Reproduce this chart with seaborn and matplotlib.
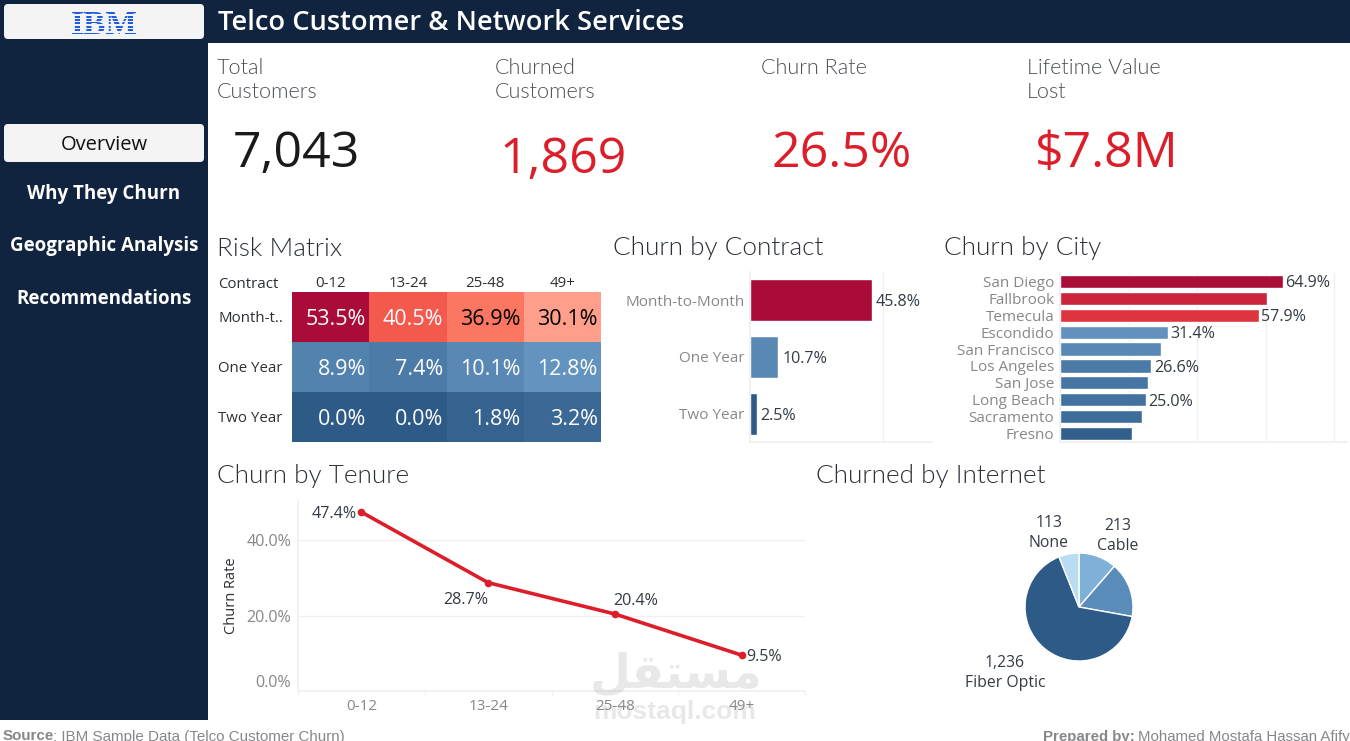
import matplotlib
matplotlib.use("Agg")
import matplotlib.pyplot as plt
from matplotlib.colors import LinearSegmentedColormap
from matplotlib.patches import FancyBboxPatch, Rectangle
import pandas as pd
import seaborn as sns

# data
kpi_titles = ["Total\nCustomers", "Churned\nCustomers", "Churn Rate", "Lifetime Value\nLost"]
kpi_values = ["7,043", "1,869", "26.5%", "$7.8M"]
nav_items = ["Overview", "Why They Churn", "Geographic Analysis", "Recommendations"]

tenure = ["0-12", "13-24", "25-48", "49+"]
contracts_short = ["Month-t..", "One Year", "Two Year"]
risk_month = [53.5, 40.5, 36.9, 30.1]
risk_one = [8.9, 7.4, 10.1, 12.8]
risk_two = [0.0, 0.0, 1.8, 3.2]

contracts = ["Month-to-Month", "One Year", "Two Year"]
contract_rate = [45.8, 10.7, 2.5]

cities = ["San Diego", "Fallbrook", "Temecula", "Escondido", "San Francisco",
          "Los Angeles", "San Jose", "Long Beach", "Sacramento", "Fresno"]
city_rate = [64.9, 60.5, 57.9, 31.4, 29.6, 26.6, 25.8, 25.0, 23.9, 21.0]
city_labelled = ["San Diego", "Temecula", "Escondido", "Los Angeles", "Long Beach"]

tenure_rate = [47.4, 28.7, 20.4, 9.5]

internet = ["Cable", "DSL", "Fiber Optic", "None"]
internet_count = [213, 307, 1236, 113]

W, H = 1350, 741
NAVY = "#10233f"
GRID = "#f0f0f0"
DARK = "#333b45"
GRAY = "#85878a"
RED = "#dc1e2a"
LIGHT_FONT = ["Lato", "DejaVu Sans"]
BODY_FONT = ["Open Sans", "DejaVu Sans"]
MID = "center_baseline"

sns.set_theme(style="white")
plt.rcParams["font.family"] = BODY_FONT

# tableau style red-blue, anchored on the values seen in the matrix
anchors = [(0, "#2e5a87"), (12.8, "#6394bf"), (30.1, "#ffa08c"),
           (36.9, "#fb7762"), (40.5, "#f4594e"), (53.5, "#a90c38")]
cmap = LinearSegmentedColormap.from_list("risk", [(v / 53.5, c) for v, c in anchors])
blue_ramp = LinearSegmentedColormap.from_list("b", ["#2e5a87", "#6394bf"])
red_ramp = LinearSegmentedColormap.from_list("r", ["#e4393f", "#a90c38"])


def bar_color(v):
    # bars use a blue ramp below 35 and a red ramp above
    if v < 35:
        return blue_ramp(max(0, (v - 20) / 12))
    return red_ramp((v - 57) / 8)


def add_axes(x0, y0, x1, y1):
    return fig.add_axes([x0 / W, 1 - y1 / H, (x1 - x0) / W, (y1 - y0) / H])


fig = plt.figure(figsize=(W / 100, H / 100), dpi=100, facecolor="white")

# risk matrix
risk = pd.DataFrame([risk_month, risk_one, risk_two], index=contracts_short, columns=tenure)
risk_labels = risk.map(lambda v: f"{v:.1f}%")
ax = add_axes(292, 292, 601, 442)
sns.heatmap(risk, ax=ax, cmap=cmap, vmin=0, vmax=53.5, annot=risk_labels, fmt="", cbar=False,
            linewidths=0, annot_kws={"fontsize": 15.5, "color": "white"})
ax.set_xlabel("")
ax.set_ylabel("")
ax.xaxis.tick_top()
ax.tick_params(axis="both", length=0, labelsize=10.8, colors="#2b2f36")
ax.tick_params(axis="x", pad=0.5, rotation=0)
ax.tick_params(axis="y", pad=53, rotation=0)
for lab in ax.get_yticklabels():
    lab.set_ha("left")
    lab.set_va(MID)
flat = risk.values.flatten()
for txt, v in zip(ax.texts, flat):
    x, y = txt.get_position()
    txt.set_ha("right")
    txt.set_va(MID)
    txt.set_position((x + 0.46, y))
    txt.set_color("black" if 25 < v < 40 else "white")

# churn by contract
ax = add_axes(750, 272, 932, 442)
df = pd.DataFrame({"contract": contracts, "rate": contract_rate})
sns.barplot(df, x="rate", y="contract", hue="contract", ax=ax, legend=False, width=0.74, saturation=1,
            palette=dict(zip(contracts, ["#a90c38", "#5a88b5", "#2e5a87"])))
ax.set_xlim(0, 68.4)
ax.set_xticks([50])
ax.set_xlabel("")
ax.set_ylabel("")
ax.grid(axis="x", color=GRID, lw=1)
ax.tick_params(axis="y", length=0, pad=4, labelsize=11, labelcolor=GRAY)
ax.tick_params(axis="x", length=0, labelbottom=False)
for i, v in enumerate(contract_rate):
    ax.text(v + 1.5, i, f"{v}%", va=MID, fontsize=11.6, color=DARK)
sns.despine(ax=ax, top=True, right=True)
ax.spines["left"].set_color(GRID)
ax.spines["bottom"].set_color(GRID)

# churn by city
ax = add_axes(1060, 273, 1347, 442)
df = pd.DataFrame({"city": cities, "rate": city_rate})
sns.barplot(df, x="rate", y="city", hue="city", ax=ax, legend=False, width=0.78, saturation=1,
            palette={c: bar_color(v) for c, v in zip(cities, city_rate)})
ax.set_xlim(0, 83.7)
ax.set_xticks([20, 40, 60, 80])
ax.set_xlabel("")
ax.set_ylabel("")
ax.grid(axis="x", color=GRID, lw=1)
ax.tick_params(axis="y", length=0, pad=4, labelsize=11, labelcolor=GRAY)
ax.tick_params(axis="x", length=0, labelbottom=False)
for i, (c, v) in enumerate(zip(cities, city_rate)):
    if c in city_labelled:
        ax.text(v + 0.8, i, f"{v:.1f}%", va=MID, fontsize=11.6, color=DARK)
sns.despine(ax=ax, top=True, right=True)
ax.spines["left"].set_color(GRID)
ax.spines["bottom"].set_color(GRID)

# churn by tenure
ax = add_axes(298, 500, 805, 691)
df = pd.DataFrame({"tenure": tenure, "rate": tenure_rate})
sns.lineplot(df, x="tenure", y="rate", ax=ax, color=RED, lw=2.6, marker="o", markersize=5.5,
             markeredgewidth=0)
ax.set_xlim(-0.5, 3.5)
ax.set_ylim(0, 50.6)
ax.set_yticks([0, 20, 40])
ax.set_yticklabels(["0.0%", "20.0%", "40.0%"])
ax.get_yticklabels()[0].set_va("bottom")
ax.set_xticks([-0.5, 0.5, 1.5, 2.5, 3.5], minor=True)
ax.grid(axis="y", color=GRID, lw=1)
ax.tick_params(axis="y", length=0, pad=5, labelsize=11.6, labelcolor=GRAY)
ax.tick_params(axis="x", which="major", length=0, pad=5.5, labelsize=11, labelcolor=GRAY)
ax.tick_params(axis="x", which="minor", length=3, width=1, color=GRID, bottom=True)
ax.set_xlabel("")
ax.set_ylabel("Churn Rate", fontsize=10.5, color="#2b2f36")
ax.yaxis.set_label_coords(-0.117, 0.5)
sns.despine(ax=ax, top=True, right=True)
ax.spines["left"].set_color(GRID)
ax.spines["bottom"].set_color(GRID)
label_offsets = [(-3, 0, "right"), (0, -11, "right"), (-1, 11, "left"), (3, 0, "left")]
for i, v in enumerate(tenure_rate):
    dx, dy, ha = label_offsets[i]
    ax.annotate(f"{v}%", (i, v), xytext=(dx, dy), textcoords="offset points",
                ha=ha, va=MID, fontsize=11.6, color=DARK)

# churned by internet
ax = add_axes(1019, 547, 1139, 667)
ax.pie(internet_count, colors=["#7fb0d8", "#5a8cba", "#2e5a87", "#b8dcf1"],
       startangle=90, counterclock=False, radius=1)
ax.set_xlim(-60 / 54, 60 / 54)
ax.set_ylim(-60 / 54, 60 / 54)

# page furniture on a top layer in pixel coordinates
top = fig.add_axes([0, 0, 1, 1], zorder=10)
top.set_xlim(0, W)
top.set_ylim(H, 0)
top.axis("off")
top.patch.set_alpha(0)

top.add_patch(Rectangle((0, 0), 208, 720, color=NAVY, lw=0))
top.add_patch(Rectangle((0, 0), W, 43, color=NAVY, lw=0))
for y0, y1 in [(4, 39), (124, 162)]:
    top.add_patch(FancyBboxPatch((7, y0 + 3), 194, y1 - y0 - 6, boxstyle="round,pad=3,rounding_size=4",
                                 fc="#f4f4f4", ec="none"))

# logo: blue letters cut by pale stripes
top.text(104, 22, "IBM", family="Liberation Serif", weight="bold", fontsize=24, color="#1f5be0",
         ha="center", va=MID)
for k in range(1, 8):
    top.add_patch(Rectangle((66, 8 + k * 3.4 - 0.7), 76, 1.4, color="#f4f4f4", lw=0, zorder=5))

top.text(218, 20, "Telco Customer & Network Services", fontsize=19.6, color="white",
         weight="semibold", va=MID)

nav_y = [143, 192, 244, 296]
for i, (name, y) in enumerate(zip(nav_items, nav_y)):
    top.text(104, y, name, ha="center", va=MID, fontsize=14.5 if i == 0 else 13.5,
             color="#111111" if i == 0 else "white", weight="normal" if i == 0 else "bold",
             family=BODY_FONT)

kpi_x = [217, 495, 761, 1027]
kpi_val_x = [296, 563, 842, 1107]
kpi_val_y = [148, 154, 148, 148]
for i in range(4):
    top.text(kpi_x[i], 58, kpi_titles[i], fontsize=15.6, color="#4a4f57", va="top",
             family=LIGHT_FONT, weight=300, linespacing=1.28)
    top.text(kpi_val_x[i], kpi_val_y[i], kpi_values[i], fontsize=36, ha="center", va=MID,
             color="#1a1a1a" if i == 0 else RED)

for x, y, name in [(217, 246, "Risk Matrix"), (613, 246, "Churn by Contract"), (944, 246, "Churn by City"),
                   (217, 474, "Churn by Tenure"), (816, 474, "Churned by Internet")]:
    top.text(x, y, name, fontsize=18.8, color="#2b3038", va=MID, family=LIGHT_FONT, weight=300)

top.text(218, 283, "Contract", fontsize=10.8, color="#2b2f36", va=MID)

for name, count, x, y in [("None", 113, 1049, 533), ("Cable", 213, 1118, 536), ("Fiber Optic", 1236, 1005, 673)]:
    top.text(x, y, f"{count:,}\n{name}", fontsize=11.3, color=DARK, ha="center", va="center", linespacing=1.4)

# footer, cut by the bottom edge like the original
foot = ["Liberation Sans", "DejaVu Sans"]
top.text(3, 736.5, "Source", fontsize=10.9, color=GRAY, va="center", family=foot, weight="bold")
top.text(53, 736.5, ": IBM Sample Data (Telco Customer Churn)", fontsize=10.9, color=GRAY, va="center", family=foot)
top.text(1043, 736.5, "Prepared by:", fontsize=10.8, color=GRAY, va="center", family=foot, weight="bold")
top.text(1138, 736.5, "Mohamed Mostafa Hassan Afify", fontsize=10.8, color=GRAY, va="center", family=foot)

# watermark
top.text(676, 675, "\ufede\ufed8\ufe98\ufeb4\ufee3", fontsize=34, weight="bold", family="DejaVu Sans",
         color="#9a9a9a", alpha=0.22, ha="center", va="center")
top.text(675, 712, "mostaql.com", fontsize=19, weight="bold", family=foot,
         color="#9a9a9a", alpha=0.22, ha="center", va="center")

fig.savefig("out.png", dpi=100, facecolor="white")
